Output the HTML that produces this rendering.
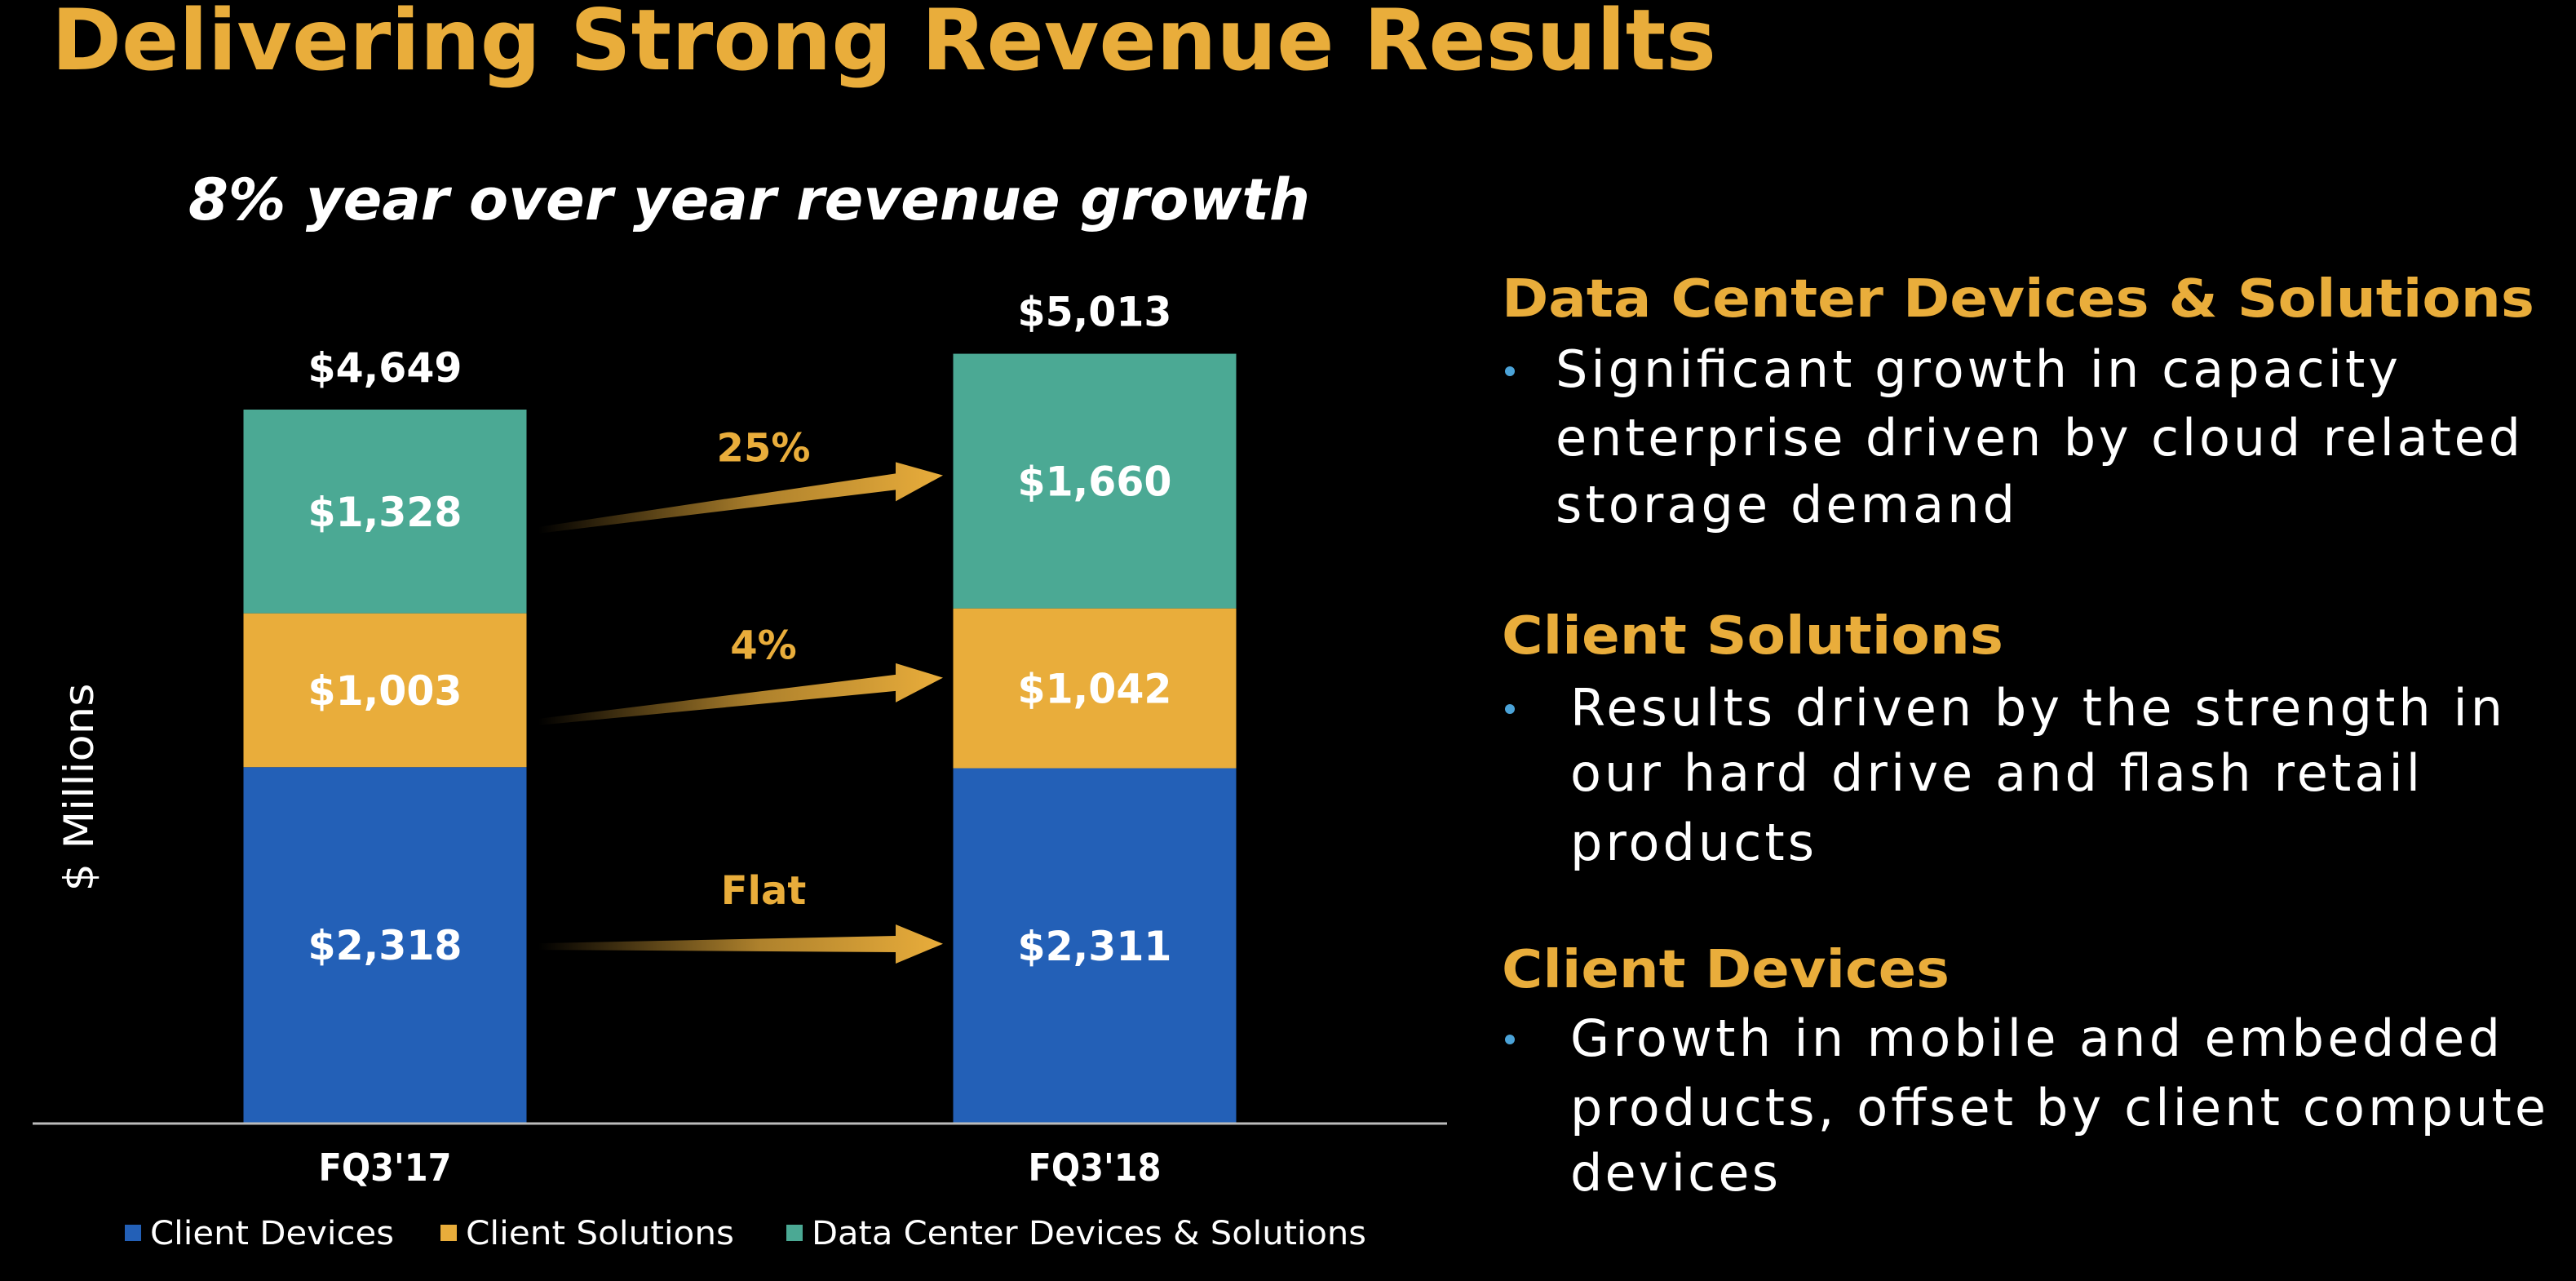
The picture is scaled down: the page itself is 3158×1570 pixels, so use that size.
<!DOCTYPE html>
<html><head><meta charset="utf-8"><style>
html,body{margin:0;padding:0;background:#000;}
svg{display:block;}
text{font-family:"DejaVu Sans","Liberation Sans",sans-serif;}
</style></head><body>
<svg id="chart" width="3158" height="1570" viewBox="0 0 3158 1570" xmlns="http://www.w3.org/2000/svg">
<defs>
<linearGradient id="ag" x1="0" x2="1" y1="0" y2="0">
<stop offset="0" stop-color="#E9AD3B" stop-opacity="0"/>
<stop offset="0.55" stop-color="#E9AD3B" stop-opacity="0.75"/>
<stop offset="1" stop-color="#E9AD3B" stop-opacity="1"/>
</linearGradient>
</defs>
<rect width="3158" height="1570" fill="#000"/>
<text x="63" y="85" font-size="103" font-weight="bold" fill="#E9AD3B" textLength="2041" lengthAdjust="spacingAndGlyphs">Delivering Strong Revenue Results</text>
<text x="231" y="269" font-size="70" font-weight="bold" font-style="italic" fill="#fff" textLength="1375" lengthAdjust="spacingAndGlyphs">8% year over year revenue growth</text>
<g id="plot"></g>
<g>
<text x="1841" y="388" font-size="64" font-weight="bold" fill="#E9AD3B" textLength="1266" lengthAdjust="spacingAndGlyphs">Data Center Devices &amp; Solutions</text>
<circle cx="1851" cy="455" r="6" fill="#4BA3D8"/>
<text font-size="62" fill="#fff" lengthAdjust="spacingAndGlyphs">
<tspan x="1907" y="474" textLength="1033">Significant growth in capacity</tspan>
<tspan x="1907" y="558" textLength="1183">enterprise driven by cloud related</tspan>
<tspan x="1907" y="640" textLength="563">storage demand</tspan></text>
<text x="1841" y="801" font-size="64" font-weight="bold" fill="#E9AD3B" textLength="615" lengthAdjust="spacingAndGlyphs">Client Solutions</text>
<circle cx="1851" cy="869" r="6" fill="#4BA3D8"/>
<text font-size="62" fill="#fff" lengthAdjust="spacingAndGlyphs">
<tspan x="1925" y="889" textLength="1143">Results driven by the strength in</tspan>
<tspan x="1925" y="969" textLength="1042">our hard drive and flash retail</tspan>
<tspan x="1925" y="1054" textLength="299">products</tspan></text>
<text x="1841" y="1210" font-size="64" font-weight="bold" fill="#E9AD3B" textLength="549" lengthAdjust="spacingAndGlyphs">Client Devices</text>
<circle cx="1851" cy="1274" r="6" fill="#4BA3D8"/>
<text font-size="62" fill="#fff" lengthAdjust="spacingAndGlyphs">
<tspan x="1925" y="1294" textLength="1140">Growth in mobile and embedded</tspan>
<tspan x="1925" y="1379" textLength="1196">products, offset by client compute</tspan>
<tspan x="1925" y="1459" textLength="255">devices</tspan></text>
</g>
</svg>
<script>
const categories = ["FQ3'17", "FQ3'18"];
const clientDevices = [2318, 2311];
const clientSolutions = [1003, 1042];
const dataCenter = [1328, 1660];
const totals = [4649, 5013];
const growthLabels = ["Flat", "4%", "25%"];
const seriesNames = ["Client Devices", "Client Solutions", "Data Center Devices & Solutions"];

const NS = "http://www.w3.org/2000/svg";
const plot = document.getElementById('plot');
const baseY = 1376, pxPerUnit = 0.188;
const barW = 347;
const barCenters = [472, 1342];
function yScale(v){ return baseY - v * pxPerUnit; }
function xScale(i){ return barCenters[i]; }
function mk(tag, attrs, txt){
  const e = document.createElementNS(NS, tag);
  for (const k in attrs) e.setAttribute(k, attrs[k]);
  if (txt !== undefined) e.textContent = txt;
  plot.appendChild(e);
  return e;
}
const series = [clientDevices, clientSolutions, dataCenter];
const colors = ["#2360B7", "#E9AD3B", "#4BA994"];
const keys = ["client-devices", "client-solutions", "data-center"];
const mids = [];
categories.forEach((c, i) => {
  let cum = 0;
  mids.push([]);
  series.forEach((s, k) => {
    const y0 = yScale(cum), y1 = yScale(cum + s[i]);
    const r = mk('rect', {x: xScale(i) - barW/2, y: y1, width: barW, height: y0 - y1, fill: colors[k]});
    
    
    const t = mk('text', {x: xScale(i), y: (y0 + y1)/2 + 18, 'font-size': 50, 'font-weight': 'bold', fill: '#fff', 'text-anchor': 'middle', textLength: 189, lengthAdjust: 'spacingAndGlyphs'}, '$' + s[i].toLocaleString('en-US'));
    
    
    mids[i].push((y0 + y1)/2);
    cum += s[i];
  });
  const tt = mk('text', {x: xScale(i), y: yScale(cum) - 34, 'font-size': 50, 'font-weight': 'bold', fill: '#fff', 'text-anchor': 'middle', textLength: 189, lengthAdjust: 'spacingAndGlyphs'}, '$' + totals[i].toLocaleString('en-US'));
  
  
  const cl = mk('text', {x: xScale(i), y: 1447, 'font-size': 46, 'font-weight': 'bold', fill: '#fff', 'text-anchor': 'middle', textLength: 163, lengthAdjust: 'spacingAndGlyphs'}, c);
  
  
});
const axis = mk('line', {x1: 40, x2: 1774, y1: baseY + 1, y2: baseY + 1, stroke: '#bbb', 'stroke-width': 3});


const yt = mk('text', {x: 0, y: 0, 'font-size': 50, fill: '#fff', 'text-anchor': 'middle', transform: 'translate(114 965) rotate(-90)', textLength: 255, lengthAdjust: 'spacingAndGlyphs'}, '$ Millions');



// growth arrows
const offs = [[1, -2], [38, -13], [22, -7]];
growthLabels.forEach((g, k) => {
  const x0 = 660, x1 = 1156;
  const ya = mids[0][k] + offs[k][0], yb = mids[1][k] + offs[k][1];
  const hx = x1 - 58, dy = yb - ya, slope = dy / (x1 - x0);
  const yh = ya + slope * (hx - x0);
  const d = `M${x0},${ya-3} L${hx},${yh-10} L${hx},${yh-24} L${x1},${yb} L${hx},${yh+24} L${hx},${yh+10} L${x0},${ya+5} Z`;
  const a = mk('path', {d: d, fill: 'url(#ag)'});
  
  
  const lt = mk('text', {x: 936, y: (ya + yb)/2 - 50, 'font-size': 48, 'font-weight': 'bold', fill: '#E9AD3B', 'text-anchor': 'middle'}, g);
  
  
});

// legend
const legX = [153, 540, 964], legW = [299, 329, 680];
seriesNames.forEach((n, k) => {
  const sq = mk('rect', {x: legX[k], y: 1501, width: 20, height: 20, fill: colors[k]});
  
  
  const lt = mk('text', {x: legX[k] + 31, y: 1525, 'font-size': 40, fill: '#fff', textLength: legW[k], lengthAdjust: 'spacingAndGlyphs'}, n);
  
  
});
</script>
</body></html>
